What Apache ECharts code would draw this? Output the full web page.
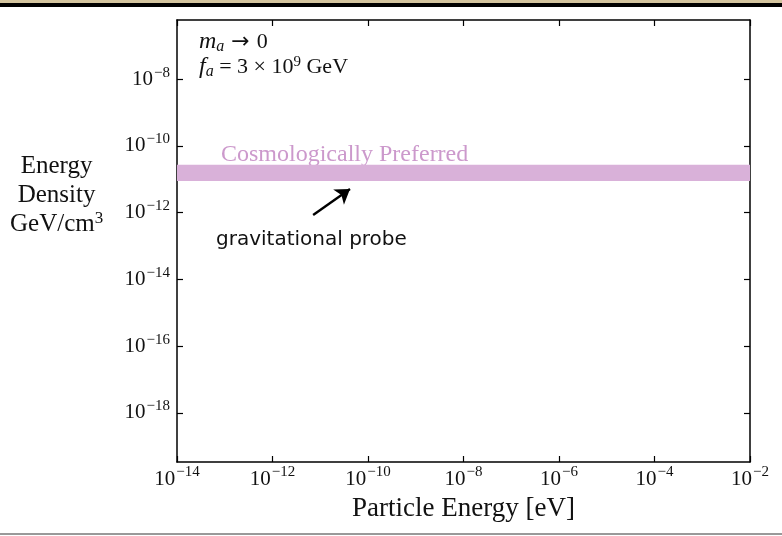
<!DOCTYPE html>
<html>
<head>
<meta charset="utf-8">
<script src="https://cdn.jsdelivr.net/npm/echarts@6/dist/echarts.min.js"></script>
<style>
  html, body { margin: 0; padding: 0; background: #fff; }
  #chart-container { width: 782px; height: 536px; }
</style>
</head>
<body>
<div id="chart-container"></div>
<script>
// Axis extents (energy in eV, energy density in GeV/cm^3)
const xRange = [1e-14, 1e-2];
const yRange = [3.4e-20, 5.9e-7];

// Tick positions
const xTicks = [1e-14, 1e-12, 1e-10, 1e-8, 1e-6, 1e-4, 1e-2];
const yTicks = [1e-18, 1e-16, 1e-14, 1e-12, 1e-10, 1e-8];

// Cosmologically preferred band
const bandLow = 8.9e-12;
const bandHigh = 2.7e-11;

// Arrow pointing at the band: [energy, density]
const arrowTail = [7.1e-12, 8.5e-13];
const arrowHead = [4.2e-11, 5.1e-12];

const lg = (v) => Math.log10(v);
const serif = "'Liberation Serif', serif";

// 10^n label as rich text
const powLabel = (v) => {
  const e = Math.round(v);
  return '{b|10}{s|' + (e < 0 ? '\u2212' : '') + Math.abs(e) + '}';
};
const powRich = {
  b: { fontSize: 21, fontFamily: serif, color: '#111', lineHeight: 28 },
  s: { fontSize: 15, fontFamily: serif, color: '#111', lineHeight: 13, verticalAlign: 'top', padding: [0, 0, 0, 1] }
};

const frameLine = { show: true, onZero: false, lineStyle: { color: '#000', width: 1.5 } };
const innerTick = (vals) => ({ show: true, inside: true, length: 6, customValues: vals, lineStyle: { color: '#000', width: 1.2 } });

const chart = echarts.init(document.getElementById('chart-container'));
chart.setOption({
  animation: false,
  backgroundColor: '#fff',
  grid: { left: 177, right: 32, top: 20, bottom: 74 },
  xAxis: [
    {
      type: 'value', min: lg(xRange[0]), max: lg(xRange[1]),
      axisLine: frameLine,
      axisTick: innerTick(xTicks.map(lg)),
      splitLine: { show: false },
      axisLabel: { customValues: xTicks.map(lg), formatter: powLabel, rich: powRich, margin: 3 },
      name: 'Particle Energy [eV]', nameLocation: 'middle', nameGap: 33,
      nameTextStyle: { fontFamily: serif, fontSize: 27, color: '#111' }
    },
    {
      type: 'value', position: 'top', min: lg(xRange[0]), max: lg(xRange[1]),
      axisLine: frameLine,
      axisTick: innerTick(xTicks.map(lg)),
      splitLine: { show: false },
      axisLabel: { show: false }
    }
  ],
  yAxis: [
    {
      type: 'value', min: lg(yRange[0]), max: lg(yRange[1]),
      axisLine: frameLine,
      axisTick: innerTick(yTicks.map(lg)),
      splitLine: { show: false },
      axisLabel: { customValues: yTicks.map(lg), formatter: powLabel, rich: powRich, margin: 7 }
    },
    {
      type: 'value', position: 'right', min: lg(yRange[0]), max: lg(yRange[1]),
      axisLine: frameLine,
      axisTick: innerTick(yTicks.map(lg)),
      splitLine: { show: false },
      axisLabel: { show: false }
    }
  ],
  series: [
    {
      name: 'Cosmologically Preferred',
      type: 'line',
      data: [],
      markArea: {
        silent: true,
        itemStyle: { color: '#d9b1d9' },
        label: { show: false },
        data: [[
          { xAxis: lg(xRange[0]), yAxis: lg(bandHigh) },
          { xAxis: lg(xRange[1]), yAxis: lg(bandLow) }
        ]]
      },
      markLine: {
        silent: true,
        symbol: ['none', 'arrow'],
        symbolSize: 14,
        label: { show: false },
        lineStyle: { color: '#000', width: 2.4, type: 'solid' },
        data: [[
          { coord: [lg(arrowTail[0]), lg(arrowTail[1])] },
          { coord: [lg(arrowHead[0]), lg(arrowHead[1])] }
        ]]
      }
    }
  ],
  graphic: [
    // screenshot frame bits
    { type: 'rect', left: 0, top: 0, shape: { width: 782, height: 3 }, style: { fill: '#d3c49e' } },
    { type: 'rect', left: 0, top: 3, shape: { width: 782, height: 4 }, style: { fill: '#000' } },
    { type: 'rect', left: 0, top: 533, shape: { width: 782, height: 2 }, style: { fill: '#999' } },
    {
      type: 'text', left: 199, top: 30,
      style: {
        text: '{i|m}{sub|a}{a| \u2192 }{n|0}\n{i|f}{sub|a}{n| = 3 \u00d7 10}{sup|9}{n| GeV}',
        rich: {
          i: { fontFamily: serif, fontStyle: 'italic', fontSize: 24, lineHeight: 25, fill: '#111' },
          n: { fontFamily: serif, fontSize: 22, lineHeight: 25, fill: '#111' },
          a: { fontFamily: "'DejaVu Sans', sans-serif", fontSize: 22, lineHeight: 25, fill: '#111' },
          sub: { fontFamily: serif, fontStyle: 'italic', fontSize: 16, lineHeight: 15, verticalAlign: 'bottom', fill: '#111' },
          sup: { fontFamily: serif, fontSize: 15, lineHeight: 14, verticalAlign: 'top', fill: '#111' }
        }
      }
    },
    {
      type: 'text', left: 221, top: 143,
      style: { text: 'Cosmologically Preferred', font: "24px 'Liberation Serif', serif", fill: '#cc99cc' }
    },
    {
      type: 'text', left: 216, top: 230,
      style: { text: 'gravitational probe', font: "20px 'DejaVu Sans', sans-serif", fill: '#111' }
    },
    {
      type: 'text', left: 10, top: 154,
      style: {
        text: '{n|Energy}\n{n|Density}\n{n|GeV/cm}{sup|3}',
        align: 'center',
        rich: {
          n: { fontFamily: serif, fontSize: 25, lineHeight: 29, fill: '#111', align: 'center' },
          sup: { fontFamily: serif, fontSize: 17, lineHeight: 15, verticalAlign: 'top', fill: '#111' }
        }
      }
    }
  ]
});
</script>
</body>
</html>
